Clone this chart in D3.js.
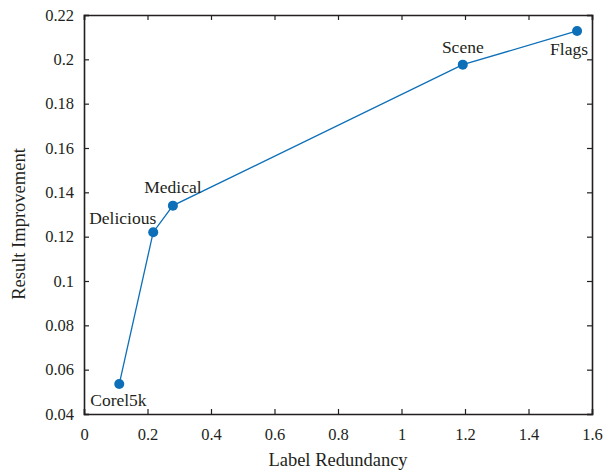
<!DOCTYPE html>
<html>
<head>
<meta charset="utf-8">
<script src="https://cdn.jsdelivr.net/npm/d3@7"></script>
<style>
  body { margin: 0; background: #fff; }
  svg text { font-family: "Liberation Serif", "DejaVu Serif", serif; fill: #231f20; }
</style>
</head>
<body>
<svg id="chart" width="604" height="472"></svg>
<script>
// dataset names and values
const datasets = ['Corel5k', 'Delicious', 'Medical', 'Scene', 'Flags']
const redundancy = [0.111, 0.218, 0.280, 1.193, 1.553]
const improvement = [0.0535, 0.1220, 0.1340, 0.1976, 0.2128]

const xTicks = [0, 0.2, 0.4, 0.6, 0.8, 1, 1.2, 1.4, 1.6]
const yTicks = [0.04, 0.06, 0.08, 0.1, 0.12, 0.14, 0.16, 0.18, 0.2, 0.22]

// label offsets from the point (dx, dy, anchor)
const labelPos = {
  Corel5k: [-29, 22, 'start'],
  Delicious: [3, -8, 'end'],
  Medical: [0, -13, 'middle'],
  Scene: [0, -12, 'middle'],
  Flags: [-8, 24, 'middle']
}

const blue = '#0c6fb8'
const margin = {top: 15, right: 12, bottom: 58, left: 84}
const width = 604, height = 472

const svg = d3.select('#chart')

const x = d3.scaleLinear()
  .domain([0, 1.6])
  .range([margin.left, width - margin.right])

const y = d3.scaleLinear()
  .domain([0.04, 0.22])
  .range([height - margin.bottom, margin.top])

const fmt = d => String(+d.toFixed(2))

// bottom and left axes with inward ticks
svg.append('g')
  .attr('transform', `translate(0,${y(0.04)})`)
  .call(d3.axisBottom(x).tickValues(xTicks).tickSize(-5).tickPadding(14).tickFormat(fmt))

svg.append('g')
  .attr('transform', `translate(${x(0)},0)`)
  .call(d3.axisLeft(y).tickValues(yTicks).tickSize(-5).tickPadding(10).tickFormat(fmt))

// mirrored top/right ticks, no labels
svg.append('g')
  .attr('transform', `translate(0,${y(0.22)})`)
  .call(d3.axisTop(x).tickValues(xTicks).tickSize(-5).tickFormat(''))

svg.append('g')
  .attr('transform', `translate(${x(1.6)},0)`)
  .call(d3.axisRight(y).tickValues(yTicks).tickSize(-5).tickFormat(''))

svg.selectAll('.domain').attr('stroke', '#231f20').attr('stroke-width', 1.6)
svg.selectAll('.tick line').attr('stroke', '#231f20').attr('stroke-width', 1.2)
svg.selectAll('.tick text')
  .style('font-size', '16.5px')
  .style('font-family', '"Liberation Serif", serif')
  .attr('fill', '#231f20')

// axis titles
svg.append('text')
  .attr('x', 338)
  .attr('y', 466)
  .attr('text-anchor', 'middle')
  .style('font-size', '18.5px')
  .text('Label Redundancy')

svg.append('text')
  .attr('transform', `translate(25,224) rotate(-90)`)
  .attr('text-anchor', 'middle')
  .style('font-size', '18.5px')
  .text('Result Improvement')

// line and points
let points = datasets.map((name, i) => ({name, rx: redundancy[i], ry: improvement[i]}))

let line = d3.line()
  .x(d => x(d.rx))
  .y(d => y(d.ry))

svg.append('path')
  .datum(points)
  .attr('d', line)
  .attr('fill', 'none')
  .attr('stroke', blue)
  .attr('stroke-width', 1.3)

svg.selectAll('.pt')
  .data(points)
  .enter()
  .append('circle')
  .attr('class', 'pt')
  .attr('cx', d => x(d.rx))
  .attr('cy', d => y(d.ry))
  .attr('r', 5)
  .attr('fill', blue)

svg.selectAll('.pt-label')
  .data(points)
  .enter()
  .append('text')
  .attr('class', 'pt-label')
  .attr('x', d => x(d.rx) + labelPos[d.name][0])
  .attr('y', d => y(d.ry) + labelPos[d.name][1])
  .attr('text-anchor', d => labelPos[d.name][2])
  .style('font-size', '17.5px')
  .text(d => d.name)
</script>
</body>
</html>
